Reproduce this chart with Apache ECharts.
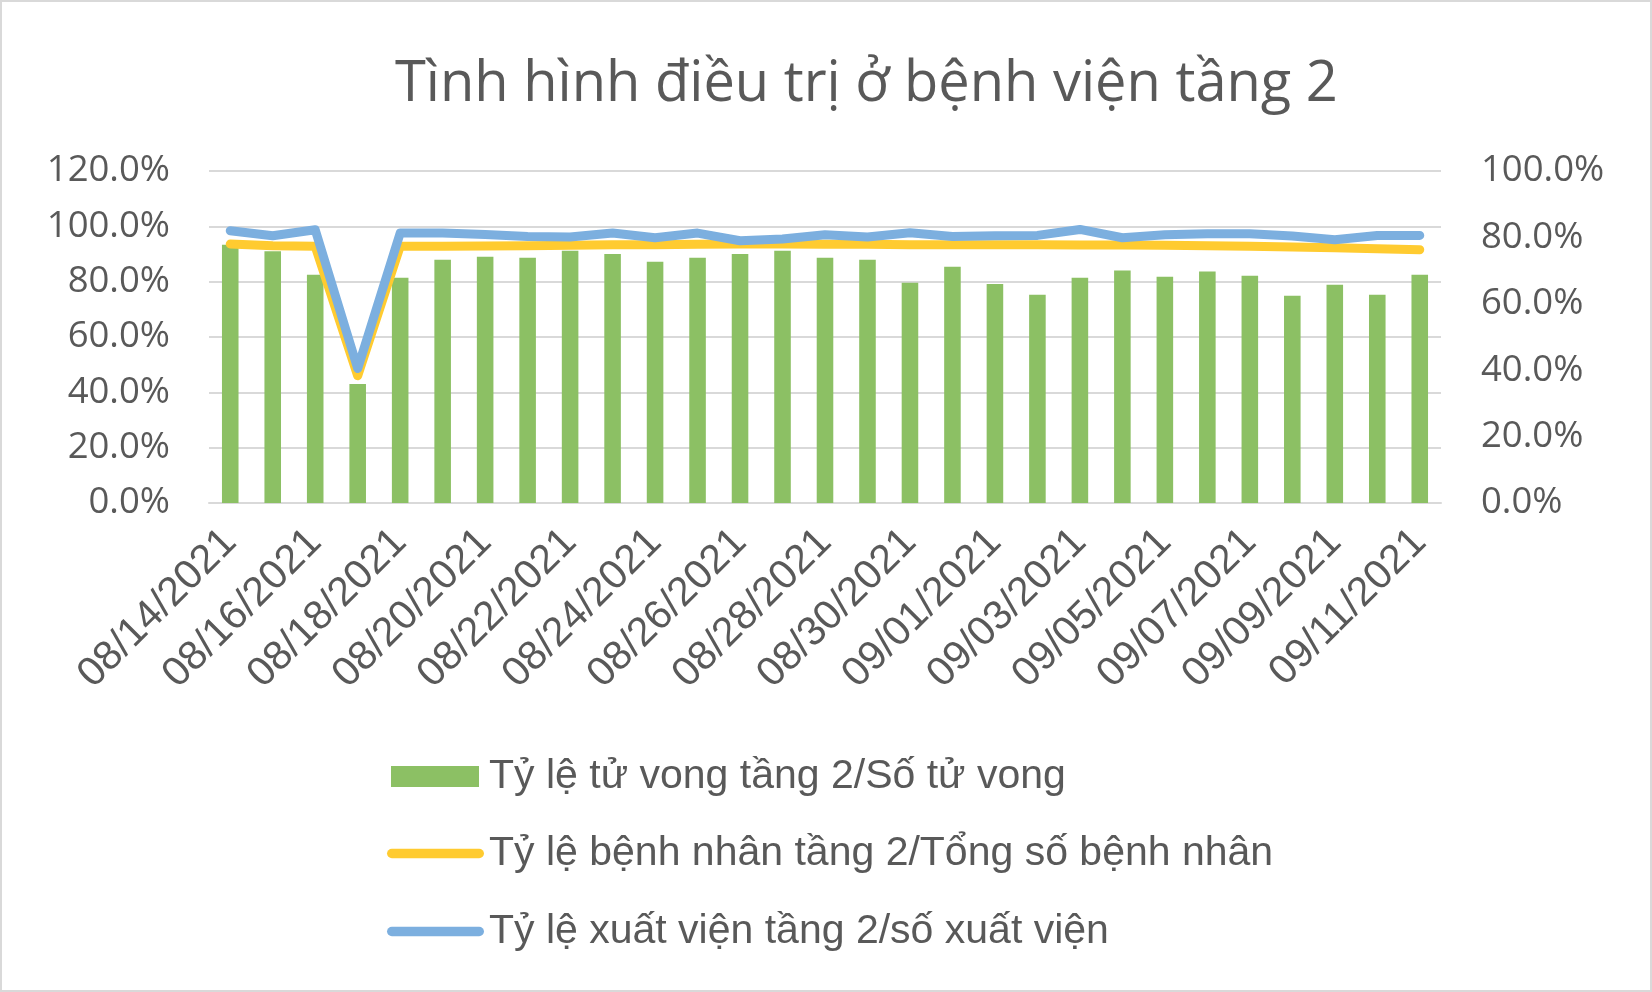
<!DOCTYPE html>
<html>
<head>
<meta charset="utf-8">
<script src="https://cdn.jsdelivr.net/npm/echarts@6/dist/echarts.min.js"></script>
<style>html,body{margin:0;padding:0;background:#fff;}#c{width:1652px;height:992px;}</style>
</head>
<body>
<div id="c"></div>
<script>
const categories = ['08/14/2021','08/15/2021','08/16/2021','08/17/2021','08/18/2021','08/19/2021','08/20/2021','08/21/2021','08/22/2021','08/23/2021','08/24/2021','08/25/2021','08/26/2021','08/27/2021','08/28/2021','08/29/2021','08/30/2021','08/31/2021','09/01/2021','09/02/2021','09/03/2021','09/04/2021','09/05/2021','09/06/2021','09/07/2021','09/08/2021','09/09/2021','09/10/2021','09/11/2021'];
const deathRate = [0.933,0.910,0.825,0.430,0.814,0.879,0.890,0.886,0.912,0.900,0.872,0.886,0.900,0.912,0.886,0.879,0.796,0.854,0.792,0.753,0.814,0.840,0.818,0.837,0.821,0.749,0.789,0.753,0.825];
const patientRate = [0.780,0.775,0.773,0.383,0.773,0.773,0.774,0.775,0.776,0.778,0.778,0.779,0.780,0.780,0.779,0.779,0.778,0.778,0.778,0.778,0.777,0.777,0.776,0.775,0.773,0.771,0.769,0.766,0.763];
const dischargeRate = [0.820,0.805,0.823,0.405,0.813,0.813,0.809,0.803,0.801,0.813,0.799,0.813,0.790,0.795,0.808,0.801,0.814,0.803,0.805,0.806,0.824,0.799,0.808,0.811,0.811,0.804,0.793,0.806,0.806];
const seriesNames = ['Tỷ lệ tử vong tầng 2/Số tử vong','Tỷ lệ bệnh nhân tầng 2/Tổng số bệnh nhân','Tỷ lệ xuất viện tầng 2/số xuất viện'];
const titleText = 'Tình hình điều trị ở bệnh viện tầng 2';

const chart = echarts.init(document.getElementById('c'));
const pct = v => (v * 100).toFixed(1) + '%';
const lineIcon = 'path://M5,0 L95,0 A5,5 0 0 1 95,10 L5,10 A5,5 0 0 1 5,0 Z';
chart.setOption({
  animation: false,
  backgroundColor: '#fff',
  graphic: [{type:'rect', shape:{x:1, y:1, width:1650, height:990}, style:{fill:'none', stroke:'#d9d9d9', lineWidth:2}, silent:true, z:-10}],
  title: {text: titleText, left: 390, top: 52, textStyle: {fontFamily: 'Open Sans', fontSize: 56, fontWeight: 'normal', color: '#595959'}},
  grid: {left: 209, right: 211, top: 171, bottom: 489, containLabel: false},
  legend: [
    {data: [seriesNames[0]], orient: 'vertical', left: 391, top: 756, padding: 0, itemWidth: 88, itemHeight: 21, icon: 'rect',
     textStyle: {fontFamily: 'Liberation Sans', fontSize: 41, color: '#595959', padding: [0,0,0,5]}},
    {data: [{name: seriesNames[1], icon: lineIcon}, {name: seriesNames[2], icon: lineIcon}], orient: 'vertical', left: 387, top: 833, padding: 0,
     itemWidth: 97, itemHeight: 9.5, itemGap: 37, symbolKeepAspect: false, itemStyle: {borderWidth: 0},
     textStyle: {fontFamily: 'Liberation Sans', fontSize: 41, color: '#595959'}}
  ],
  xAxis: {
    type: 'category', data: categories, boundaryGap: true,
    axisLine: {show: true, lineStyle: {color: '#d9d9d9', width: 2}},
    axisTick: {show: false},
    axisLabel: {interval: 1, rotate: 45, margin: 33, padding: [42,0,0,0], fontFamily: 'Liberation Sans', fontSize: 41, color: '#595959'}
  },
  yAxis: [
    {type: 'value', min: 0, max: 1.2, interval: 0.2,
     axisLine: {show: false}, axisTick: {show: false},
     splitLine: {lineStyle: {color: '#d9d9d9', width: 2}},
     axisLabel: {formatter: pct, margin: 39, fontFamily: 'Open Sans', fontSize: 36.5, color: '#595959'}},
    {type: 'value', min: 0, max: 1.0, interval: 0.2, position: 'right',
     axisLine: {show: false}, axisTick: {show: false}, splitLine: {show: false},
     axisLabel: {formatter: pct, margin: 40, fontFamily: 'Open Sans', fontSize: 36.5, color: '#595959'}}
  ],
  series: [
    {name: seriesNames[0], type: 'bar', data: deathRate, yAxisIndex: 0, barWidth: '39%', itemStyle: {color: '#8cc064'}},
    {name: seriesNames[1], type: 'line', data: patientRate, yAxisIndex: 1, symbol: 'none', smooth: false,
     itemStyle: {color: '#ffcb30'}, lineStyle: {color: '#ffcb30', width: 9, cap: 'round', join: 'round'}},
    {name: seriesNames[2], type: 'line', data: dischargeRate, yAxisIndex: 1, symbol: 'none', smooth: false,
     itemStyle: {color: '#7cafdf'}, lineStyle: {color: '#7cafdf', width: 9, cap: 'round', join: 'round'}}
  ]
});
</script>
</body>
</html>
